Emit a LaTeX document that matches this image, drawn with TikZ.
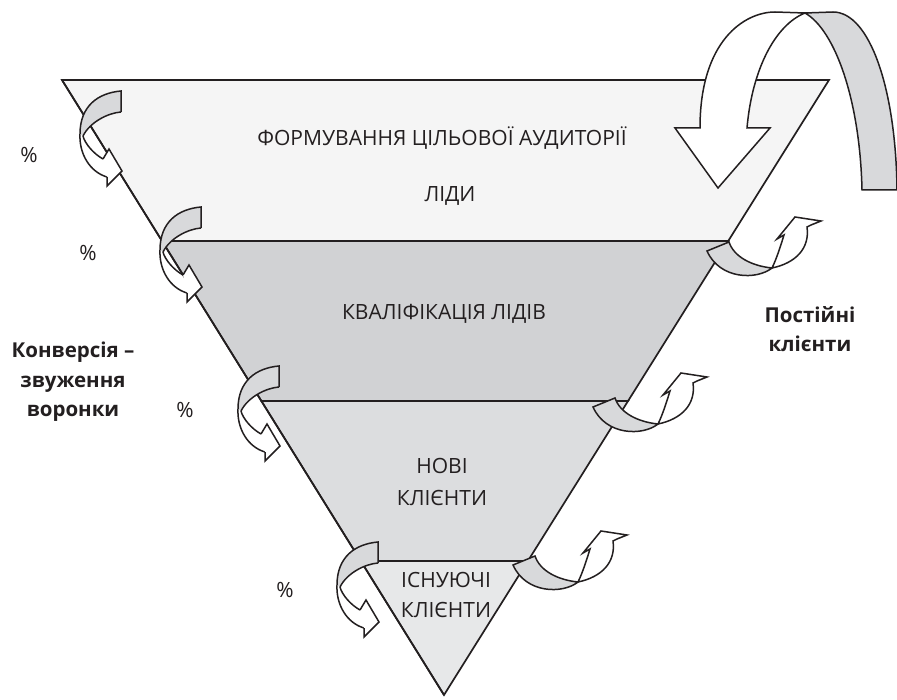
\documentclass[tikz,border=0pt]{standalone}
\usepackage{fontspec}
\setmainfont{Open Sans}
\usetikzlibrary{calc}
\definecolor{levA}{HTML}{F5F5F5}
\definecolor{levB}{HTML}{D1D2D4}
\definecolor{levC}{HTML}{DCDDDF}
\definecolor{levD}{HTML}{E7E8E9}
\definecolor{band}{HTML}{D8D9DB}
\definecolor{ink}{HTML}{231F20}
\tikzset{
  funnel/.style={draw=ink, line width=1.7pt, line join=miter},
  arr/.style={draw=ink, line width=1.5pt, line join=miter},
  lvltext/.style={text=ink, font=\fontsize{21}{24}\selectfont, align=center, inner sep=0pt},
  sidetext/.style={text=ink, font=\bfseries\fontsize{20.5}{29.5}\selectfont, align=center},
  pct/.style={text=ink, font=\fontsize{21}{24}\selectfont},
  pics/lshaft/.style={code={
    \fill[white] (0,0) .. controls (-1,20) and (10,38) .. (27,43) -- (23,25) .. controls (14,20) and (5,10) .. (3,2) -- cycle;
    \draw[arr] (0,0) .. controls (-1,20) and (10,38) .. (27,43);
    \draw[arr] (23,25) .. controls (14,20) and (5,10) .. (3,2);
  }},
  pics/lhead/.style={code={
    \fill[white] (23,25) -- (29,15) -- (42,37) -- (27,52) -- (27,43) -- cycle;
    \draw[arr] (23,25) -- (29,15) -- (42,37) -- (27,52) -- (27,43);
  }},
  pics/lband/.style={code={
    \fill[band] (41,-43) .. controls (18,-41) and (0,-28) .. (0,0) -- (3,2) .. controls (10,-12) and (28,-21) .. (41,-22) -- cycle;
    \draw[arr] (41,-22) -- (41,-43) .. controls (18,-41) and (0,-28) .. (0,0);
    \draw[arr] (3,2) .. controls (10,-12) and (28,-21) .. (41,-22);
  }},
  pics/rarrow/.style={code={
    \filldraw[arr, fill=band] (-65,-17) -- (-43,-26) .. controls (-38,-11) and (-20,-2) .. (0,0) .. controls (-15,12) and (-52,12) .. (-65,-17) -- cycle;
    \filldraw[arr, fill=white] (0,0) .. controls (24,-5) and (38,-20) .. (35,-41) -- (39,-43) -- (49,-47) -- (23,-51) -- (5,-29) -- (12,-33) .. controls (8,-20) and (4,-8) .. (0,0) -- cycle;
  }}
}
\begin{document}
\begin{tikzpicture}[x=1pt,y=-1pt]
\useasboundingbox (0,0) rectangle (897,700);
\fill[white] (0,0) rectangle (897,700);
% funnel corners
\coordinate (TL) at (62,80);
\coordinate (TR) at (829,80);
\coordinate (TP) at (444,695);
\coordinate (LB) at ($(TL)!{161/615}!(TP)$);
\coordinate (RB) at ($(TR)!{161/615}!(TP)$);
\coordinate (LC) at ($(TL)!{321/615}!(TP)$);
\coordinate (RC) at ($(TR)!{321/615}!(TP)$);
\coordinate (LD) at ($(TL)!{481/615}!(TP)$);
\coordinate (RD) at ($(TR)!{481/615}!(TP)$);
% levels
\filldraw[funnel, fill=levA] (TL) -- (TR) -- (RB) -- (LB) -- cycle;
\filldraw[funnel, fill=levB] (LB) -- (RB) -- (RC) -- (LC) -- cycle;
\filldraw[funnel, fill=levC] (LC) -- (RC) -- (RD) -- (LD) -- cycle;
\filldraw[funnel, fill=levD] (LD) -- (RD) -- (TP) -- cycle;
% level texts
\node[lvltext] (t1) at (442,138) {ФОРМУВАННЯ ЦІЛЬОВОЇ АУДИТОРІЇ};
\node[lvltext] (t1b) at (450,196) {ЛІДИ};
\node[lvltext] (t2) at (444,314) {КВАЛІФІКАЦІЯ ЛІДІВ};
\node[lvltext] (t3) at (442,466) {НОВІ};
\node[lvltext] (t3b) at (442,498) {КЛІЄНТИ};
\node[lvltext] (t4) at (446,580) {ІСНУЮЧІ};
\node[lvltext] (t4b) at (446,610) {КЛІЄНТИ};
% side texts
\node[sidetext] (conv) at (73,382) {Конверсія –\\звуження\\воронки};
\node[sidetext] (perm) at (810,329) {Постійні\\клієнти};
\node[pct] (p1) at (29,155) {\%};
\node[pct] (p2) at (88,253) {\%};
\node[pct] (p3) at (185,410) {\%};
\node[pct] (p4) at (285,590) {\%};
% big top arrow
\filldraw[arr, fill=band] (805,13) .. controls (835,30) and (860,100) .. (862,190) -- (897,190) .. controls (896,90) and (870,12) .. (833,12) -- cycle;
\filldraw[arr, fill=white] (700,128) .. controls (700,40) and (745,12) .. (775,12) -- (805,13) .. controls (775,25) and (752,70) .. (747,128) -- (770,128) -- (718,188) -- (675,128) -- cycle;
% left arrows
\coordinate (A1) at (80,134);
\coordinate (A2) at (160,250);
\coordinate (A3) at (238,409);
\coordinate (A4) at (337,585);
\foreach \c in {A1,A2,A3,A4} \pic at (\c) {lshaft};
\draw[funnel] (TL) -- (TP);
\foreach \c in {A1,A2,A3,A4} \pic at (\c) {lhead};
\foreach \c in {A1,A2,A3,A4} \pic at (\c) {lband};
% right arrows
\coordinate (E1) at (772,268);
\coordinate (E2) at (658,424);
\coordinate (E3) at (578,582);
\foreach \c in {E1,E2,E3} \pic at (\c) {rarrow};
\end{tikzpicture}
\end{document}
